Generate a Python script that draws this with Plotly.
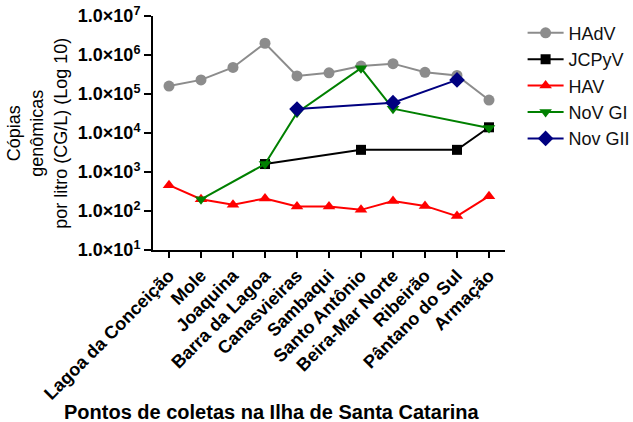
import plotly.graph_objects as go

sites = ["Lagoa da Conceição", "Mole", "Joaquina", "Barra da Lagoa", "Canasvieiras",
         "Sambaqui", "Santo Antônio", "Beira-Mar Norte", "Ribeirão", "Pântano do Sul", "Armação"]

hadv = [1.6e5, 2.3e5, 4.8e5, 2.0e6, 2.9e5, 3.5e5, 5.2e5, 6.0e5, 3.6e5, 3.0e5, 7.0e4]
jcpyv = [None, None, None, 1.6e3, None, None, 3.7e3, None, None, 3.7e3, 1.4e4]
hav = [4.6e2, 2.0e2, 1.45e2, 2.1e2, 1.3e2, 1.3e2, 1.07e2, 1.8e2, 1.35e2, 7.4e1, 2.4e2]
nov_gi = [None, 2.0e2, None, 1.6e3, 3.3e4, None, 4.6e5, 4.2e4, None, None, 1.35e4]
nov_gii = [None, None, None, None, 4.1e4, None, None, 6.0e4, None, 2.3e5, None]

y_tickvals = [1e1, 1e2, 1e3, 1e4, 1e5, 1e6, 1e7]
y_ticktext = ["1.0×10<sup>1</sup>", "1.0×10<sup>2</sup>", "1.0×10<sup>3</sup>", "1.0×10<sup>4</sup>",
              "1.0×10<sup>5</sup>", "1.0×10<sup>6</sup>", "1.0×10<sup>7</sup>"]

series = [
    ("HAdV", hadv, "#8c8c8c", "circle", 11),
    ("JCPyV", jcpyv, "#000000", "square", 10),
    ("HAV", hav, "#ff0000", "triangle-up", 11),
    ("NoV GI", nov_gi, "#008000", "triangle-down", 11),
    ("Nov GII", nov_gii, "#000080", "diamond", 12),
]

FONT = "Arial, Liberation Sans, sans-serif"

fig = go.Figure()
for name, vals, color, sym, size in series:
    fig.add_trace(go.Scatter(
        x=sites, y=vals, name=name, mode="lines+markers", connectgaps=True,
        line=dict(color=color, width=2),
        marker=dict(symbol=sym, size=size, color=color, line=dict(width=0)),
    ))

fig.update_layout(
    width=633, height=422,
    margin=dict(l=153, r=128, t=16, b=172, autoexpand=False),
    paper_bgcolor="white", plot_bgcolor="white",
    font=dict(family=FONT, color="black"),
    showlegend=True,
    legend=dict(x=1.05, y=1.006, xanchor="left", yanchor="top",
                font=dict(size=18, family=FONT, color="#111"),
                itemwidth=36, tracegroupgap=2, bgcolor="rgba(0,0,0,0)"),
    xaxis=dict(
        type="category", range=[-0.5, 10.5],
        showline=True, linecolor="black", linewidth=2,
        ticks="outside", ticklen=6, tickwidth=2, tickcolor="black",
        tickangle=-45, tickfont=dict(size=18, family=FONT, weight="bold"),
        showgrid=False, zeroline=False, automargin=False,
    ),
    yaxis=dict(
        type="log", range=[1, 7],
        tickvals=y_tickvals, ticktext=y_ticktext,
        showline=True, linecolor="black", linewidth=2,
        ticks="outside", ticklen=7, tickwidth=2, tickcolor="black",
        tickfont=dict(size=18, family=FONT, weight="bold"),
        showgrid=False, zeroline=False, automargin=False,
    ),
)

fig.add_annotation(
    text="Cópias<br>genômicas<br>por litro (CG/L) (Log 10)",
    xref="paper", yref="paper", x=-0.33, y=0.5, xanchor="center", yanchor="middle",
    textangle=-90, showarrow=False, align="center",
    font=dict(size=18, family=FONT, color="black"),
)
fig.add_annotation(
    text="<b>Pontos de coletas na Ilha de Santa Catarina</b>",
    xref="paper", yref="paper", x=0.337, y=-0.692, xanchor="center", yanchor="middle",
    showarrow=False, font=dict(size=20, family=FONT, color="black"),
)

fig.write_html("out.html", config={"displayModeBar": False},
               post_script="document.body.style.margin='0';")
